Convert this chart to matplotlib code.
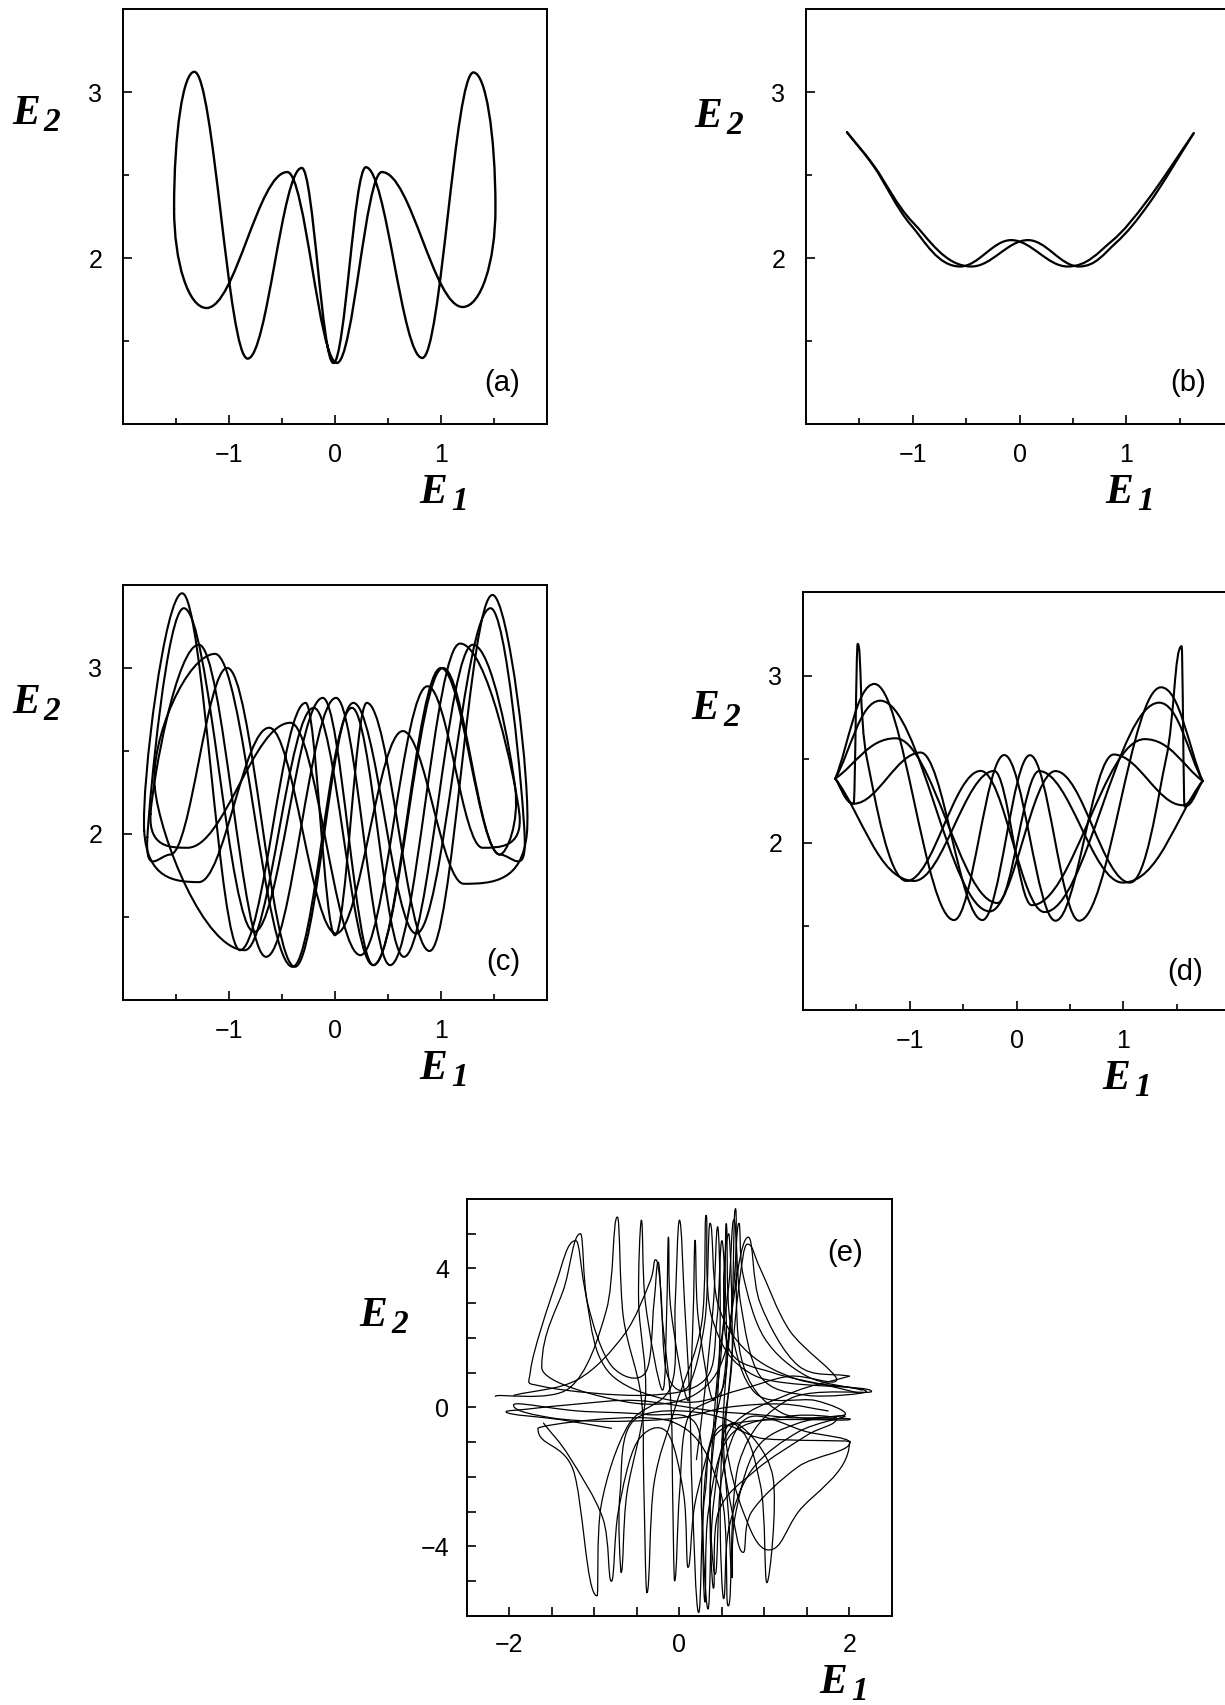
import numpy as np
import matplotlib
matplotlib.use("Agg")
import matplotlib.pyplot as plt
from matplotlib.path import Path
from matplotlib.patches import PathPatch
from matplotlib.transforms import blended_transform_factory, offset_copy

plt.rcParams['font.family'] = ['Liberation Sans', 'DejaVu Sans']

# Orbits are stored as turning points: (E1, E2) plus the tangent at each point
# h = horizontal (E2 extremum), v = vertical (E1 extremum), s = smooth, c = corner

# (a) one closed orbit
a_x = [-1.518, -1.327, -0.824, -0.313, -0.015, 0.291, 0.824, 1.306,
       1.514, 1.205, 0.442, 0.018, -0.450, -1.212]
a_y = [2.30, 3.122, 1.394, 2.543, 1.368, 2.547, 1.398, 3.118,
       2.30, 1.705, 2.518, 1.368, 2.518, 1.699]
a_kind = "vhhhhhhhvhhhhh"

# (b) two nearly coincident branches
b_x = [[-1.617, -1.36, -1.019, -0.557, -0.079, 0.450, 0.86, 1.20, 1.631],
       [-1.617, -1.36, -1.000, -0.450, 0.079, 0.557, 0.90, 1.22, 1.631]]
b_y = [[2.758, 2.547, 2.200, 1.949, 2.108, 1.949, 2.100, 2.350, 2.752],
       [2.758, 2.552, 2.215, 1.949, 2.108, 1.949, 2.090, 2.335, 2.752]]
b_kind = ["csshhhssc", "csshhhssc"]

# (c) four turns of a quasi-periodic orbit
c_x = [[-1.80, -1.442, -0.896, -0.277, 0.000, 0.300, 0.892, 1.486,
        1.81, 1.216, 0.640, 0.010, -0.621, -1.284],
       [-1.77, -1.426, -0.763, -0.115, 0.363, 1.000, 1.557,
        1.79, 1.468, 0.766, 0.173, -0.378, -1.016, -1.554],
       [-1.74, -1.284, -0.650, 0.010, 0.520, 1.180,
        1.74, 1.392, 0.873, 0.240, -0.420, -1.392],
       [-1.70, -1.132, -0.400, 0.160, 0.650, 1.300,
        1.70, 1.554, 1.020, 0.360, -0.200, -0.850]]
c_y = [[2.02, 3.45, 1.30, 2.79, 1.39, 2.79, 1.295, 3.44,
        2.00, 1.70, 2.62, 1.40, 2.64, 1.71],
       [1.98, 3.36, 1.41, 2.82, 1.21, 3.00, 1.876,
        1.98, 3.36, 1.40, 2.79, 1.20, 3.00, 1.876],
       [2.12, 3.14, 1.26, 2.82, 1.21, 3.147,
        2.12, 1.917, 2.89, 1.27, 2.67, 1.917],
       [2.28, 3.085, 1.20, 2.76, 1.26, 3.14,
        2.28, 1.876, 3.00, 1.21, 2.76, 1.30]]
c_kind = ["shhhhhhhshhhhh", "shhhhhhshhhhhh", "shhhhhshhhhh", "shhhhhshhhhh"]

# (d) six branches between the two end points
d_x = [[-1.698, -1.331, -0.585, -0.115, 0.365, 0.910, 1.555, 1.744],
       [1.744, 1.353, 0.586, 0.126, -0.319, -0.898, -1.525, -1.698],
       [-1.698, -1.276, -0.250, 0.365, 1.063, 1.40, 1.547, 1.574, 1.744],
       [1.744, 1.336, 0.262, -0.335, -1.030, -1.40, -1.488, -1.525, -1.698],
       [-1.698, -1.133, -0.178, 0.211, 0.995, 1.744],
       [1.744, 1.200, 0.143, -0.209, -0.960, -1.698]]
d_y = [[2.384, 2.950, 1.538, 2.525, 1.534, 2.528, 2.225, 2.370],
       [2.370, 2.930, 1.534, 2.524, 1.538, 2.540, 2.234, 2.384],
       [2.384, 2.850, 1.590, 2.429, 1.762, 2.50, 3.176, 2.217, 2.370],
       [2.370, 2.838, 1.586, 2.430, 1.772, 2.50, 3.190, 2.234, 2.384],
       [2.384, 2.625, 1.640, 2.429, 1.762, 2.370],
       [2.370, 2.620, 1.627, 2.430, 1.772, 2.384]]
d_kind = ["chhhhhhc", "chhhhhhc", "chhhhshhc", "chhhhshhc", "chhhhc", "chhhhc"]

# (e) chaotic trajectory, five stretches
e_x = [[-2.165, -1.30, -0.86, -0.73, -0.66, -0.45, -0.42, -0.383, -0.30, -0.05,
        0.26, 0.313, 0.38, 0.90, 2.26, 1.30, 0.70, 0.574, 0.48, -0.10,
        -1.665, -1.25, -0.97, -0.92, -0.60, -0.10, -0.05, 0.00, 0.06, 0.12,
        0.15, 0.226, 0.30, 0.55, 2.01, 1.20, 0.72, 0.66, 0.58, 0.20,
        -0.60, -1.62, -1.35, -1.165, -1.08, -0.80, -0.40, -0.30, -0.25, -0.20,
        -0.10, -0.08, -0.057, 0.00, 0.10, 0.50, 0.60, 0.81, 0.95, 1.40,
        2.00],
       [2.00, 1.30, 0.60, 0.40, 0.335, 0.28, 0.45, 1.00, 2.01, 1.40,
        0.85, 0.75, 0.62, 0.50, 0.70, 1.10, 1.03, 0.95, 0.60, -0.50,
        -0.70, -0.687, -0.62, -0.40, -0.48, -0.448, -0.40, -0.20, -0.15, -0.13,
        -0.10, 0.10, 0.16, 0.183, 0.22, 0.40, 0.52, 0.55, 0.60, 0.90,
        1.60, 1.95, 1.40, 0.90, 0.40, -0.50, -1.20, -1.80, -2.04, -1.40,
        -0.80],
       [-1.95, -1.20, -0.65, -0.35, -0.28, -0.22, -0.15, 0.10, 0.30, 0.36,
        0.45, 0.80, 1.40, 2.20, 1.50, 0.95, 0.72, 0.64, 0.58, 0.45,
        0.36, 0.40, 0.46, 0.90, 1.50, 1.85, 1.30, 0.60, 0.34, 0.30,
        0.26, 0.20, -0.40, -1.20, -1.85, -1.95, -1.50, -0.80, 0.00, 0.55,
        1.20, 1.75],
       [-1.60, -1.30, -0.90, -0.80, -0.72, -0.50, -0.15, 0.05, 0.10, 0.18,
        0.40, 0.55, 0.50, 0.44, 0.30, -0.40, -1.60, -1.75, -1.45, -1.22,
        -1.12, -0.95, -0.60, 0.10, 0.70, 1.30, 1.85, 1.30, 0.95, 0.80,
        0.70, 0.60, 0.55, 0.75, 1.05, 1.40, 2.00, 1.50, 0.80, 0.50,
        0.42, 0.36, 0.45, 0.48, 0.45, 0.40, 0.30, 0.20],
       [2.15, 1.50, 1.00, 0.75, 0.70, 0.64, 0.55, 0.50, 0.48, 0.52,
        0.58, 0.85, 1.40, 1.95, 1.40, 0.90, 0.65, 0.62, 0.58, 0.52,
        0.62, 0.58, 0.52, 0.60, 1.10, 1.80, 2.10]]
e_y = [[0.32, 0.55, 2.80, 5.48, 2.60, 0.30, -2.20, -5.33, -2.20, 0.00,
        2.40, 5.53, 2.60, 0.90, 0.46, 0.25, -1.60, -5.71, -2.40, -0.40,
        -0.60, -1.80, -5.42, -2.80, -0.50, 0.60, 3.00, 5.39, 3.00, 0.30,
        -2.50, -5.90, -2.50, -0.55, -0.34, -0.15, 1.50, 5.72, 2.00, 0.40,
        0.15, 1.15, 3.50, 5.00, 3.00, 1.20, 1.00, 3.00, 4.18, 2.50,
        0.10, -2.50, -4.99, -2.50, -0.30, 0.50, 2.50, 4.90, 3.00, 1.20,
        0.90],
       [0.90, 0.40, -0.60, -2.80, -5.80, -2.80, -0.60, -0.90, -0.98, -1.70,
        -3.00, -4.17, -3.00, -1.00, -0.50, -2.00, -5.04, -2.20, -0.40, -0.30,
        -2.50, -4.75, -2.50, 0.30, 3.00, 5.39, 3.00, 0.50, 2.80, 4.90,
        2.80, 0.20, 2.60, 4.81, 2.60, 0.20, 2.50, 5.29, 2.40, 0.40,
        0.20, -0.20, -0.30, -0.20, -0.10, 0.20, 0.10, -0.05, -0.12, -0.35,
        -0.60],
       [0.35, 0.80, 2.10, 3.60, 4.25, 3.40, 1.00, 0.60, 2.50, 5.30,
        3.00, 1.60, 0.80, 0.45, 0.35, 0.90, 3.00, 5.40, 3.50, 1.00,
        -2.50, -5.20, -3.00, -1.80, -0.80, -0.30, -0.25, -0.80, -3.00, -5.60,
        -3.00, -0.50, -0.20, -0.10, 0.10, 0.05, -0.30, -0.40, -0.30, 0.00,
        0.10, -0.10],
       [-0.45, -1.40, -3.20, -5.00, -3.00, -1.00, -0.70, -2.50, -4.60, -2.80,
        -0.60, 1.50, 4.80, 2.50, 0.80, 0.35, 0.60, 1.10, 3.60, 4.80,
        3.50, 1.50, 0.60, 0.15, 0.50, 0.90, 0.80, 2.20, 4.00, 4.70,
        3.50, 1.00, -1.00, -3.00, -4.10, -3.00, -1.00, -0.70, -0.30, -2.00,
        -4.80, -2.50, 0.30, 3.00, 5.20, 3.00, 0.50, -1.50],
       [0.50, 0.90, 2.00, 3.80, 5.30, 3.50, 1.00, -1.00, -3.50, -5.50,
        -3.50, -1.80, -0.70, -0.25, -0.45, -1.20, -3.20, -4.90, -3.20, -0.80,
        1.50, 5.00, 3.50, 1.60, 1.00, 0.60, 0.42]]
e_kind = ["vsshssshssshssvsshssvshssssh" + "ssshssvsshsssvshsssshssshsssshsss",
          "sssshsssvsshsssshsssshssshssshssshssshssssssssssvss",
          "sssshssss" + "hsssvsssh" + "ssshsssv" + "ssshsssss" + "vssssss",
          "sssh" + "ssssh" + "sssh" + "ssssssh" + "sssssssssh" + "ssssh" + "svsssh" + "sssh" + "sss",
          "ssssh" + "ssssh" + "sssssssh" + "sssh" + "sssss"]


def smooth_path(xs, ys, kinds, closed=False):
    pts = np.column_stack([xs, ys]).astype(float)
    n = len(pts)

    def tan(k):
        if closed:
            return (pts[(k + 1) % n] - pts[k - 1]) / 2.0
        lo, hi = max(k - 1, 0), min(k + 1, n - 1)
        return (pts[hi] - pts[lo]) / (hi - lo)

    def handle(k, d, other):
        kind = kinds[k]
        if kind in "hv":
            if other in "hv":
                kap = 0.36 if other == kind else 0.55
            else:
                kap = 0.45
            return np.array([kap * d[0], 0.0]) if kind == "h" else np.array([0.0, kap * d[1]])
        if kind == "c":
            return d / 3.0
        return tan(k) / 3.0

    verts = [pts[0]]
    codes = [Path.MOVETO]
    for k in range(n if closed else n - 1):
        j = (k + 1) % n
        d = pts[j] - pts[k]
        verts += [pts[k] + handle(k, d, kinds[j]), pts[j] - handle(j, d, kinds[k]), pts[j]]
        codes += [Path.CURVE4] * 3
    return Path(verts, codes)


def draw_orbit(ax, xs, ys, kinds, closed=False, lw=1.6):
    ax.add_patch(PathPatch(smooth_path(xs, ys, kinds, closed), fc="none", ec="black",
                           lw=lw, capstyle="round", joinstyle="round"))


def e_label(ax, x, y, sub, tr):
    ax.text(x, y, "E", transform=tr, family="Liberation Serif", weight="bold",
            style="italic", fontsize=30, ha="left", va="baseline", clip_on=False)
    ax.text(x, y, sub, transform=offset_copy(tr, fig=ax.figure, x=23, y=-5, units="points"),
            family="Liberation Serif", weight="bold", style="italic", fontsize=24,
            ha="left", va="baseline", clip_on=False)


def setup_small(ax, tag, ylab_base, tag_y):
    ax.set_xlim(-2, 2)
    ax.set_ylim(1, 3.5)
    ax.set_xticks([-1, 0, 1])
    ax.set_xticklabels(["\u22121", "0", "1"])
    ax.set_xticks([-1.5, -0.5, 0.5, 1.5], minor=True)
    ax.set_yticks([2, 3])
    ax.set_yticklabels(["2", "3"])
    ax.set_yticks([1.5, 2.5], minor=True)
    ax.tick_params(which="both", direction="in", width=1.2, labelsize=18)
    ax.tick_params(which="major", length=6.5)
    ax.tick_params(which="minor", length=4.3)
    ax.tick_params(axis="x", pad=14)
    ax.tick_params(axis="y", pad=15)
    for sp in ax.spines.values():
        sp.set_linewidth(1.4)
    ax.text(1.745, tag_y, tag, ha="right", va="center", fontsize=21)
    e_label(ax, -0.262, ylab_base, "2", blended_transform_factory(ax.transAxes, ax.transData))
    e_label(ax, 0.80, -0.19, "1", blended_transform_factory(ax.transData, ax.transAxes))


fig = plt.figure(figsize=(12.25, 17.05), dpi=100)

ax_a = fig.add_axes([0.1004, 0.7513, 0.3461, 0.2434])
ax_b = fig.add_axes([0.6580, 0.7513, 0.3486, 0.2434])
ax_c = fig.add_axes([0.1004, 0.4135, 0.3461, 0.2434])
ax_d = fig.add_axes([0.6555, 0.4076, 0.3486, 0.2452])
ax_e = fig.add_axes([0.3812, 0.0522, 0.3469, 0.2446])

draw_orbit(ax_a, a_x, a_y, a_kind, closed=True, lw=1.7)
for xs, ys, ks in zip(b_x, b_y, b_kind):
    draw_orbit(ax_b, xs, ys, ks, lw=1.6)
for xs, ys, ks in zip(c_x, c_y, c_kind):
    draw_orbit(ax_c, xs, ys, ks, closed=True, lw=1.5)
for xs, ys, ks in zip(d_x, d_y, d_kind):
    draw_orbit(ax_d, xs, ys, ks, lw=1.5)
for xs, ys, ks in zip(e_x, e_y, e_kind):
    draw_orbit(ax_e, xs, ys, ks, lw=0.9)

setup_small(ax_a, "(a)", 2.81, 1.25)
setup_small(ax_b, "(b)", 2.79, 1.25)
setup_small(ax_c, "(c)", 2.73, 1.23)
setup_small(ax_d, "(d)", 2.74, 1.23)

ax_e.set_xlim(-2.5, 2.5)
ax_e.set_ylim(-6, 6)
ax_e.set_xticks(np.arange(-2, 2.01, 0.5))
ax_e.set_xticklabels(["\u22122", "", "", "", "0", "", "", "", "2"])
ax_e.set_yticks(np.arange(-5, 5.01, 1))
ax_e.set_yticklabels(["", "\u22124", "", "", "", "0", "", "", "", "4", ""])
ax_e.tick_params(direction="in", length=6.5, width=1.2, labelsize=18)
ax_e.tick_params(axis="x", pad=12)
ax_e.tick_params(axis="y", pad=13)
for sp in ax_e.spines.values():
    sp.set_linewidth(1.4)
ax_e.text(2.16, 4.44, "(e)", ha="right", va="center", fontsize=21)
e_label(ax_e, -0.254, 2.35, "2", blended_transform_factory(ax_e.transAxes, ax_e.transData))
e_label(ax_e, 1.65, -0.185, "1", blended_transform_factory(ax_e.transData, ax_e.transAxes))

fig.savefig("out.png", dpi=100)
